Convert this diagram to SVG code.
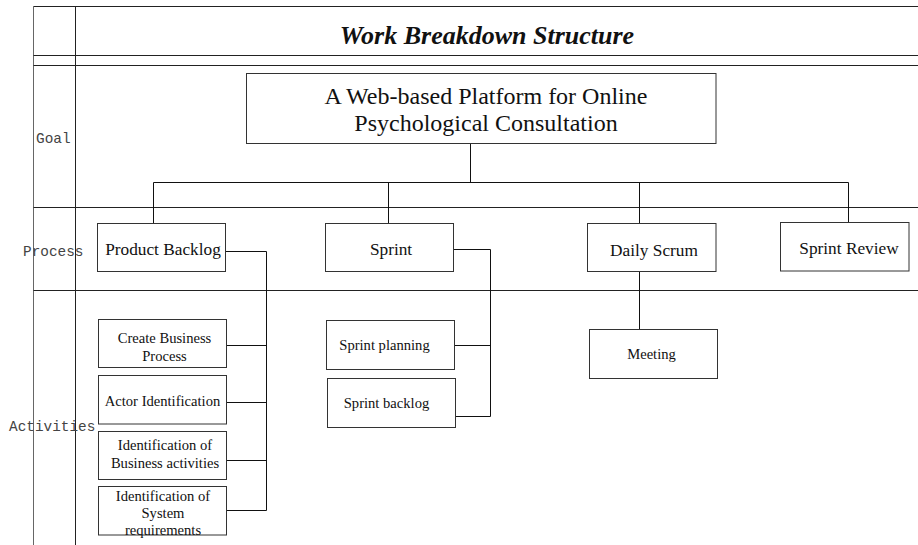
<svg xmlns="http://www.w3.org/2000/svg" width="918" height="545" viewBox="0 0 918 545">
  <style>
    .frame { fill: none; stroke: #222; stroke-width: 1; }
    .frame-outer { fill: none; stroke: #666; stroke-width: 1; }
    .box { fill: #fff; stroke: #333; stroke-width: 1; }
    .wire { fill: none; stroke: #111; stroke-width: 1; }
    .serif { font-family: "Liberation Serif", "Times New Roman", serif; fill: #111; text-anchor: middle; }
    .title { font-size: 26px; font-weight: bold; font-style: italic; }
    .goal { font-size: 24px; }
    .proc { font-size: 17.3px; }
    .act { font-size: 14.6px; }
    .lane { font-family: "Liberation Mono", "Courier New", monospace; font-size: 14.4px; fill: #444; }
  </style>

  <rect width="918" height="545" fill="#fff"/>

  <!-- swimlane frame -->
  <g id="frame">
    <path class="frame-outer" d="M33.5 6.5 V545"/>
    <path class="frame" d="M75.5 6.5 V545"/>
    <path class="frame" d="M33.5 6.5 H918 M33.5 55.5 H918 M33.5 65.5 H918 M33.5 207.5 H918 M33.5 290.5 H918"/>
    <text class="serif title" x="487" y="44">Work Breakdown Structure</text>
    <text class="lane" x="36" y="143">Goal</text>
    <text class="lane" x="23" y="256">Process</text>
    <text class="lane" x="9" y="431">Activities</text>
  </g>

  <!-- connectors -->
  <g id="connectors">
    <path class="wire" d="M470.5 143.5 V182.5 M153.5 182.5 H848.5 M153.5 182.5 V223.5 M388.5 182.5 V223.5 M639.5 182.5 V223.5 M848.5 182.5 V222.5"/>
    <path class="wire" d="M225.5 251.5 H266.5 V510.5 M226.5 345.5 H266.5 M226.5 402.5 H266.5 M226.5 460.5 H266.5 M226.5 510.5 H266.5"/>
    <path class="wire" d="M453.5 249.5 H490.5 V416.5 H455.5 M454.5 345.5 H490.5"/>
    <path class="wire" d="M639.5 271.5 V329.5"/>
  </g>

  <!-- goal -->
  <g id="goal">
    <rect class="box" x="246.5" y="73.5" width="469.5" height="70"/>
    <text class="serif goal" x="486" y="104">A Web-based Platform for Online</text>
    <text class="serif goal" x="486" y="131">Psychological Consultation</text>
  </g>

  <!-- process -->
  <g id="product-backlog">
    <rect class="box" x="97.5" y="223.5" width="128" height="48"/>
    <text class="serif proc" x="163" y="255">Product Backlog</text>
  </g>
  <g id="sprint">
    <rect class="box" x="325.5" y="223.5" width="128" height="48"/>
    <text class="serif proc" x="391" y="255">Sprint</text>
  </g>
  <g id="daily-scrum">
    <rect class="box" x="587.5" y="223.5" width="128.5" height="48"/>
    <text class="serif proc" x="654" y="256">Daily Scrum</text>
  </g>
  <g id="sprint-review">
    <rect class="box" x="780.5" y="222.5" width="128.5" height="48.5"/>
    <text class="serif proc" x="849" y="254">Sprint Review</text>
  </g>

  <!-- activities -->
  <g id="create-business-process">
    <rect class="box" x="98.5" y="319.5" width="128" height="48"/>
    <text class="serif act" x="164.5" y="343">Create Business</text>
    <text class="serif act" x="164.5" y="361">Process</text>
  </g>
  <g id="actor-identification">
    <rect class="box" x="98.5" y="375.5" width="128" height="48.5"/>
    <text class="serif act" x="162.5" y="406">Actor Identification</text>
  </g>
  <g id="business-activities">
    <rect class="box" x="98.5" y="431.5" width="128" height="48"/>
    <text class="serif act" x="165" y="450">Identification of</text>
    <text class="serif act" x="165" y="468">Business activities</text>
  </g>
  <g id="system-requirements">
    <rect class="box" x="98.5" y="486.5" width="128" height="48.5"/>
    <text class="serif act" x="163" y="501">Identification of</text>
    <text class="serif act" x="163" y="518">System</text>
    <text class="serif act" x="163" y="535">requirements</text>
  </g>
  <g id="sprint-planning">
    <rect class="box" x="326.5" y="320.5" width="128" height="49"/>
    <text class="serif act" x="384.5" y="350">Sprint planning</text>
  </g>
  <g id="sprint-backlog">
    <rect class="box" x="327.5" y="378.5" width="128" height="49"/>
    <text class="serif act" x="386.5" y="408">Sprint backlog</text>
  </g>
  <g id="meeting">
    <rect class="box" x="589.5" y="329.5" width="128" height="49"/>
    <text class="serif act" x="651.5" y="359">Meeting</text>
  </g>
</svg>
